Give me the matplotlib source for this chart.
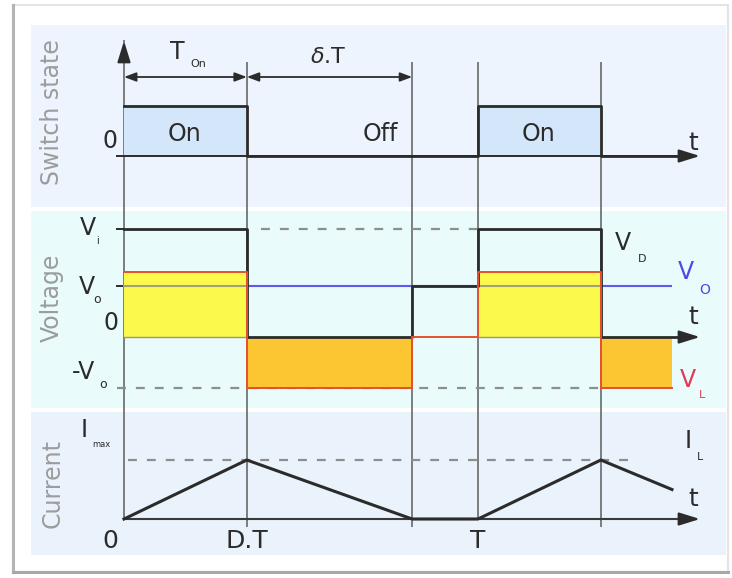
import numpy as np
import matplotlib.pyplot as plt
from matplotlib.patches import Rectangle
from matplotlib.lines import Line2D

# time values, in units of the period T
T = 1.0
D = 0.347          # end of the On time (D.T)
t_zero = 0.814     # inductor current has fallen to zero
t_end = 1.548      # end of the drawn traces
t_axis = 1.627     # tip of the time axis arrows

# switch state
sw_t = [0.0, D, D, T, T, T + D, T + D, t_axis]
sw_s = [1, 1, 0, 0, 1, 1, 0, 0]
on_spans = [(0.0, D), (T, T + D)]
state_names = ['On', 'Off', 'On']
state_pos = [0.172, 0.725, 1.17]

# voltages, normalised to Vi
Vi = 1.0
Vo = 0.47
VL_on = 0.60
vd_t = [0.0, D, D, t_zero, t_zero, T, T, T + D, T + D, t_axis]
vd_v = [Vi, Vi, 0, 0, Vo, Vo, Vi, Vi, 0, 0]
vl_t = [0.0, D, D, t_zero, t_zero, T, T, T + D, T + D, t_end]
vl_v = [VL_on, VL_on, -Vo, -Vo, 0, 0, VL_on, VL_on, -Vo, -Vo]
vo_t = [0.0, 1.545]

# inductor current, normalised to Imax
il_t = [0.0, D, t_zero, T, T + D, t_end]
il_i = [0.0, 1.0, 0.0, 0.0, 1.0, 0.5]

# vertical guide lines
guide_t = [0.0, D, t_zero, T, T + D]
guide_top = [40, 62, 62, 62, 62]
guide_bot = [519, 527, 527, 519, 527]

dark = '#2b2b2b'
guide_col = '#5c5c5c'
dash_col = '#8e8e8e'
grey_txt = '#9c9c9c'
yellow = '#fbf94c'
orange = '#fcc633'
red = '#e4512c'
blue = '#5b5bf0'
dash_pat = (4, 4.5)

W, H = 732.0, 578.0
fig = plt.figure(figsize=(7.32, 5.78), dpi=100)


def box(x0, y0, x1, y1):
    return [x0 / W, 1 - y1 / H, (x1 - x0) / W, (y1 - y0) / H]


def fig_rect(x0, y0, x1, y1, **kw):
    b = box(x0, y0, x1, y1)
    fig.add_artist(Rectangle((b[0], b[1]), b[2], b[3], transform=fig.transFigure, **kw))


# outer frame and panel backgrounds
fig_rect(13, 5, 728, 572, fc='white', ec='#e4e4e4', lw=1.5, zorder=-3)
fig.add_artist(Line2D([13 / W, 13 / W], [1 - 572 / H, 1 - 5 / H], transform=fig.transFigure,
                      color='#b4b4b4', lw=2.2, zorder=-2))
fig.add_artist(Line2D([13 / W, 728 / W], [1 - 572 / H, 1 - 572 / H], transform=fig.transFigure,
                      color='#a8a8a8', lw=2.2, zorder=-2))
fig_rect(31, 25, 726, 207, fc='#edf4fd', ec='none', zorder=-2)
fig_rect(31, 211, 726, 408, fc='#e9fbfb', ec='none', zorder=-2)
fig_rect(31, 412, 726, 555, fc='#eaf3fc', ec='none', zorder=-2)

xl = ((31 - 124) / 354, (726 - 124) / 354)

# guide lines across all panels
g = fig.add_axes(box(31, 0, 726, 578), zorder=0)
g.set_facecolor('none')
g.set_xlim(xl)
g.set_ylim(H, 0)
g.axis('off')
g.vlines(guide_t, guide_top, guide_bot, color=guide_col, lw=1.1)

arrow = dict(arrowstyle='-|>,head_length=0.9,head_width=0.28', color=dark, lw=1.6,
             mutation_scale=14, shrinkA=0, shrinkB=0)
dim = dict(arrowstyle='<|-|>,head_length=0.8,head_width=0.3', color=dark, lw=1.3,
           mutation_scale=9, shrinkA=0, shrinkB=0)

# ---- switch state ----
ax1 = fig.add_axes(box(31, 25, 726, 207), zorder=1)
ax1.set_facecolor('none')
ax1.set_xlim(xl)
ax1.set_ylim(-1.02, 2.62)
ax1.axis('off')
for a, b in on_spans:
    ax1.fill_between([a, b], 0, 1, color='#d4e6f9', lw=0)
ax1.plot([-0.02, t_axis - 0.03], [0, 0], color=dark, lw=1.4)
ax1.plot(sw_t[:-1] + [t_axis - 0.03], sw_s, color=dark, lw=2)
ax1.annotate('', xy=(t_axis, 0), xytext=(t_axis - 0.05, 0), arrowprops=arrow)
ax1.annotate('', xy=(0, 2.3), xytext=(0, 1.9), arrowprops=arrow)
ax1.annotate('', xy=(0, 1.58), xytext=(D, 1.58), arrowprops=dim)
ax1.annotate('', xy=(D, 1.58), xytext=(t_zero, 1.58), arrowprops=dim)
for name, pos in zip(state_names, state_pos):
    ax1.text(pos, 0.45, name, fontsize=17, color=dark, ha='center', va='center')
ax1.text(-0.04, 0.3, '0', fontsize=17, color=dark, ha='center', va='center')
ax1.text(0.150, 2.08, 'T', fontsize=17, color=dark, ha='center', va='center')
ax1.text(0.209, 1.84, 'On', fontsize=8, color=dark, ha='center', va='center')
ax1.text(0.576, 1.98, r'$\delta$.T', fontsize=16, color=dark, ha='center', va='center')
ax1.text(1.607, 0.26, 't', fontsize=18, color=dark, ha='center', va='center')
ax1.text(-0.203, 0.88, 'Switch state', fontsize=17, color=grey_txt, rotation=90,
         ha='center', va='center')

# ---- voltage ----
ax2 = fig.add_axes(box(31, 211, 726, 408), zorder=1)
ax2.set_facecolor('none')
ax2.set_xlim(xl)
ax2.set_ylim(-0.657, 1.167)
ax2.axis('off')
ax2.plot([-0.02, 0], [Vi, Vi], color=dark, lw=1.4)
ax2.plot([-0.02, 0], [Vo, Vo], color=dark, lw=1.4)
ax2.plot([D + 0.04, T], [Vi, Vi], color=dash_col, lw=1.6, dashes=dash_pat)
ax2.plot([-0.02, T + D], [-Vo, -Vo], color=dash_col, lw=1.6, dashes=dash_pat)
ax2.plot(vo_t, [Vo, Vo], color=blue, lw=1.5, zorder=1)
ax2.fill_between(vl_t, np.clip(vl_v, 0, None), 0, color=yellow, lw=0, zorder=2)
ax2.fill_between(vl_t, np.clip(vl_v, None, 0), 0, color=orange, lw=0, zorder=2)
for a, b in on_spans:
    ax2.plot([a, b], [Vo, Vo], color='#a0a07c', lw=1.5, zorder=2.5)
    ax2.plot([a, b], [0, 0], color='#9a9a70', lw=1, zorder=2.5)
ax2.plot(vd_t[:-1] + [t_axis - 0.03], vd_v, color=dark, lw=2, zorder=3)
ax2.annotate('', xy=(t_axis, 0), xytext=(t_axis - 0.05, 0), arrowprops=arrow)
ax2.plot(vl_t, vl_v, color=red, lw=1.4, zorder=4)
ax2.text(-0.102, 1.01, 'V', fontsize=17, color=dark, ha='center', va='center')
ax2.text(-0.076, 0.89, 'i', fontsize=7, color=dark, ha='center', va='center')
ax2.text(-0.105, 0.463, 'V', fontsize=17, color=dark, ha='center', va='center')
ax2.text(-0.076, 0.343, 'o', fontsize=9, color=dark, ha='center', va='center')
ax2.text(-0.037, 0.13, '0', fontsize=17, color=dark, ha='center', va='center')
ax2.text(-0.113, -0.324, '-V', fontsize=17, color=dark, ha='center', va='center')
ax2.text(-0.059, -0.444, 'o', fontsize=9, color=dark, ha='center', va='center')
ax2.text(1.41, 0.87, 'V', fontsize=17, color=dark, ha='center', va='center')
ax2.text(1.463, 0.72, 'D', fontsize=8, color=dark, ha='center', va='center')
ax2.text(1.588, 0.60, 'V', fontsize=17, color='#4a4ae6', ha='center', va='center')
ax2.text(1.641, 0.44, 'O', fontsize=10, color='#4a4ae6', ha='center', va='center')
ax2.text(1.593, -0.40, 'V', fontsize=17, color='#e33a55', ha='center', va='center')
ax2.text(1.633, -0.537, 'L', fontsize=8, color='#e33a55', ha='center', va='center')
ax2.text(1.607, 0.185, 't', fontsize=18, color=dark, ha='center', va='center')
ax2.text(-0.203, 0.36, 'Voltage', fontsize=17, color=grey_txt, rotation=90,
         ha='center', va='center')

# ---- current ----
ax3 = fig.add_axes(box(31, 412, 726, 555), zorder=1)
ax3.set_facecolor('none')
ax3.set_xlim(xl)
ax3.set_ylim(-0.61, 1.814)
ax3.axis('off')
ax3.plot([0.01, 1.427], [1, 1], color=dash_col, lw=1.6, dashes=dash_pat)
ax3.plot([0, t_axis - 0.03], [0, 0], color='#3a3a3a', lw=1.5)
ax3.annotate('', xy=(t_axis, 0), xytext=(t_axis - 0.05, 0), arrowprops=arrow)
ax3.plot(il_t, il_i, color=dark, lw=2.2)
ax3.text(-0.113, 1.51, 'I', fontsize=17, color=dark, ha='center', va='center')
ax3.text(-0.065, 1.27, 'max', fontsize=6, color=dark, ha='center', va='center')
ax3.text(1.593, 1.32, 'I', fontsize=17, color=dark, ha='center', va='center')
ax3.text(1.627, 1.05, 'L', fontsize=8, color=dark, ha='center', va='center')
ax3.text(1.607, 0.34, 't', fontsize=18, color=dark, ha='center', va='center')
ax3.text(-0.04, -0.37, '0', fontsize=18, color=dark, ha='center', va='center')
ax3.text(D, -0.37, 'D.T', fontsize=18, color=dark, ha='center', va='center')
ax3.text(T, -0.37, 'T', fontsize=18, color=dark, ha='center', va='center')
ax3.text(-0.203, 0.61, 'Current', fontsize=17, color=grey_txt, rotation=90,
         ha='center', va='center')

fig.savefig('out.png', dpi=100)
